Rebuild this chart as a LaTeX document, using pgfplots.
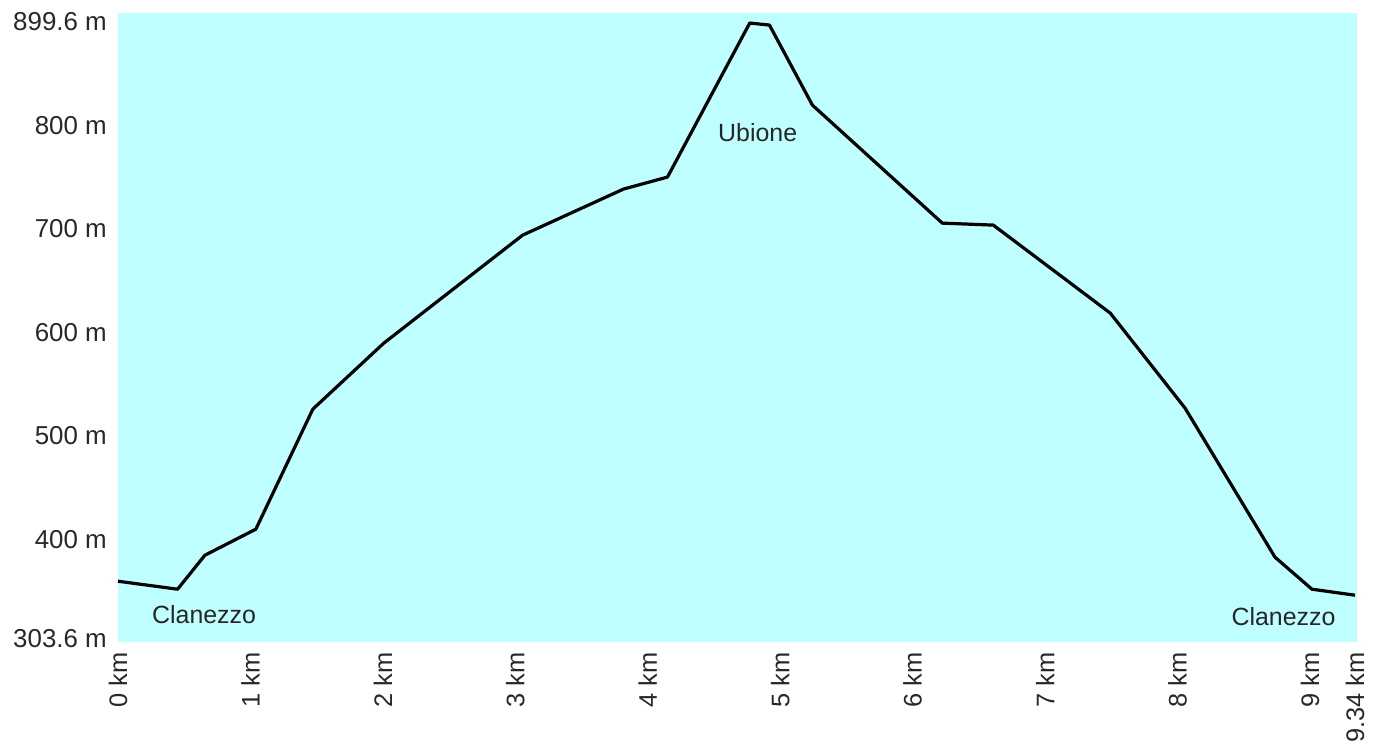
\documentclass[border=0pt]{standalone}
\usepackage{pgfplots}
\pgfplotsset{compat=1.18}
\usepackage{fontspec}
\setmainfont{Liberation Sans}
\definecolor{bgcyan}{RGB}{191,255,255}
\definecolor{lab}{RGB}{40,40,40}
\begin{document}
\begin{tikzpicture}[x=1bp,y=1bp]
\path[use as bounding box] (0,0) rectangle (1384,752);
\begin{axis}[
  at={(118bp,110bp)}, anchor=south west,
  scale only axis, width=1239bp, height=629bp,
  xmin=0, xmax=9.355, ymin=300.7, ymax=908.3,
  axis line style={draw=none},
  major tick length=0pt,
  axis background/.style={fill=bgcyan},
  xtick={0,1,2,3,4,5,6,7,8,9,9.34},
  xticklabels={0 km,1 km,2 km,3 km,4 km,5 km,6 km,7 km,8 km,9 km,9.34 km},
  ytick={303.6,400,500,600,700,800,899.6},
  yticklabels={303.6 m,400 m,500 m,600 m,700 m,800 m,899.6 m},
  xticklabel style={rotate=90, anchor=east, font=\fontsize{25.5}{28}\selectfont, text=lab, inner sep=0pt},
  yticklabel style={anchor=east, font=\fontsize{26}{28}\selectfont, text=lab, inner sep=0pt},
  xtick align=outside, ytick align=outside,
  xticklabel shift=10bp, yticklabel shift=11bp,
  clip=false,
]
\addplot[black, line width=3.2bp, line join=round] coordinates {
(0,359.4) (0.45,351.7) (0.656,384.5) (1.041,409.7) (1.471,525.6)
(2.007,589.4) (3.055,693.7) (3.817,738.2) (4.149,749.8) (4.77,898.6)
(4.919,896.6) (5.243,819.3) (6.224,705.3) (6.609,703.4) (7.492,618.4)
(8.057,526.6) (8.736,382.6) (9.015,351.7) (9.34,345.9)
};
\node[font=\fontsize{25}{28}\selectfont, text=black!85] at (axis cs:0.65,327.5) {Clanezzo};
\node[font=\fontsize{25}{28}\selectfont, text=black!85] at (axis cs:4.83,793) {Ubione};
\node[font=\fontsize{25}{28}\selectfont, text=black!85] at (axis cs:8.80,325.6) {Clanezzo};
\end{axis}
\end{tikzpicture}
\end{document}
